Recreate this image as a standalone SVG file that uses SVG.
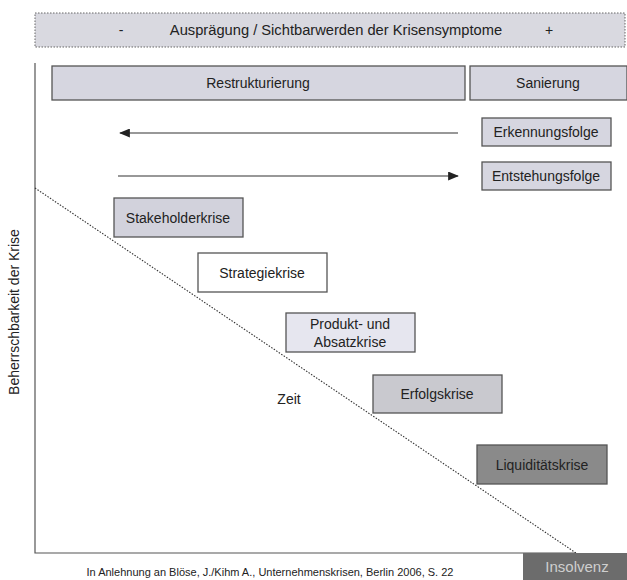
<svg xmlns="http://www.w3.org/2000/svg" width="627" height="580" viewBox="0 0 627 580">
<defs>
<style>
text{font-family:"Liberation Sans",Arial,sans-serif;font-size:14px;fill:#222}
.box{stroke:#555;stroke-width:1.3}
.lav{fill:#d6d6e0}
.ax{stroke:#555;stroke-width:1.2;fill:none}
.arr{stroke:#333;stroke-width:1.2;fill:none}
</style>
<marker id="ah" viewBox="0 0 12 10" refX="11" refY="5" markerWidth="12" markerHeight="9" orient="auto-start-reverse" markerUnits="userSpaceOnUse">
<path d="M0,0 L12,5 L0,10 z" fill="#222"/>
</marker>
</defs>
<rect width="627" height="580" fill="#fff"/>
<g id="banner">
<rect x="35" y="13" width="590" height="34" fill="#d9d9e0" stroke="#666" stroke-width="1" stroke-dasharray="1.5,1.5"/>
<text x="121" y="35" text-anchor="middle">-</text>
<text x="336" y="35" text-anchor="middle" style="font-size:14.7px">Ausprägung / Sichtbarwerden der Krisensymptome</text>
<text x="549" y="35" text-anchor="middle">+</text>
</g>
<g id="axes">
<path class="ax" d="M35,63 V553 H576"/>
<text transform="translate(19,312) rotate(-90)" text-anchor="middle">Beherrschbarkeit der Krise</text>
</g>
<g id="restrukturierung">
<rect class="box lav" x="52" y="66" width="413" height="34"/>
<text x="258" y="88" text-anchor="middle">Restrukturierung</text>
</g>
<g id="sanierung">
<rect class="box lav" x="470" y="66" width="157" height="34"/>
<text x="548" y="88" text-anchor="middle">Sanierung</text>
</g>
<g id="erkennungsfolge">
<rect class="box lav" x="482" y="118" width="129" height="28"/>
<text x="546" y="137" text-anchor="middle">Erkennungsfolge</text>
</g>
<g id="entstehungsfolge">
<rect class="box lav" x="482" y="162" width="129" height="28"/>
<text x="546" y="181" text-anchor="middle">Entstehungsfolge</text>
</g>
<g id="connectors">
<line class="arr" x1="458" y1="133" x2="120" y2="133" marker-end="url(#ah)"/>
<line class="arr" x1="118" y1="176" x2="458" y2="176" marker-end="url(#ah)"/>
<line x1="35" y1="188" x2="576" y2="553" stroke="#333" stroke-width="1.1" stroke-dasharray="1.5,1.5"/>
</g>
<g id="stakeholderkrise">
<rect class="box" fill="#d2d2dc" x="114" y="198" width="129" height="39"/>
<text x="178" y="222.5" text-anchor="middle">Stakeholderkrise</text>
</g>
<g id="strategiekrise">
<rect class="box" fill="#fff" x="198" y="253" width="129" height="39"/>
<text x="262" y="277.5" text-anchor="middle">Strategiekrise</text>
</g>
<g id="produktkrise">
<rect class="box" fill="#e6e6ef" x="286" y="313" width="129" height="39"/>
<text x="350" y="329" text-anchor="middle">Produkt- und</text>
<text x="350" y="347" text-anchor="middle">Absatzkrise</text>
</g>
<g id="erfolgskrise">
<rect class="box" fill="#c9c9cf" x="373" y="375" width="129" height="38"/>
<text x="437" y="399" text-anchor="middle">Erfolgskrise</text>
</g>
<g id="zeit">
<text x="289" y="404" text-anchor="middle">Zeit</text>
</g>
<g id="liquiditaetskrise">
<rect class="box" fill="#8a8a8a" x="477" y="445" width="130" height="39"/>
<text x="542" y="469.5" text-anchor="middle">Liquiditätskrise</text>
</g>
<g id="insolvenz">
<rect x="523" y="553" width="104" height="27" fill="#6c6c6c"/>
<text x="577" y="572" text-anchor="middle" style="fill:#cfcfcf;font-size:15px">Insolvenz</text>
</g>
<g id="footer">
<text x="270" y="576" text-anchor="middle" style="font-size:11px">In Anlehnung an Blöse, J./Kihm A., Unternehmenskrisen, Berlin 2006, S. 22</text>
</g>
</svg>
